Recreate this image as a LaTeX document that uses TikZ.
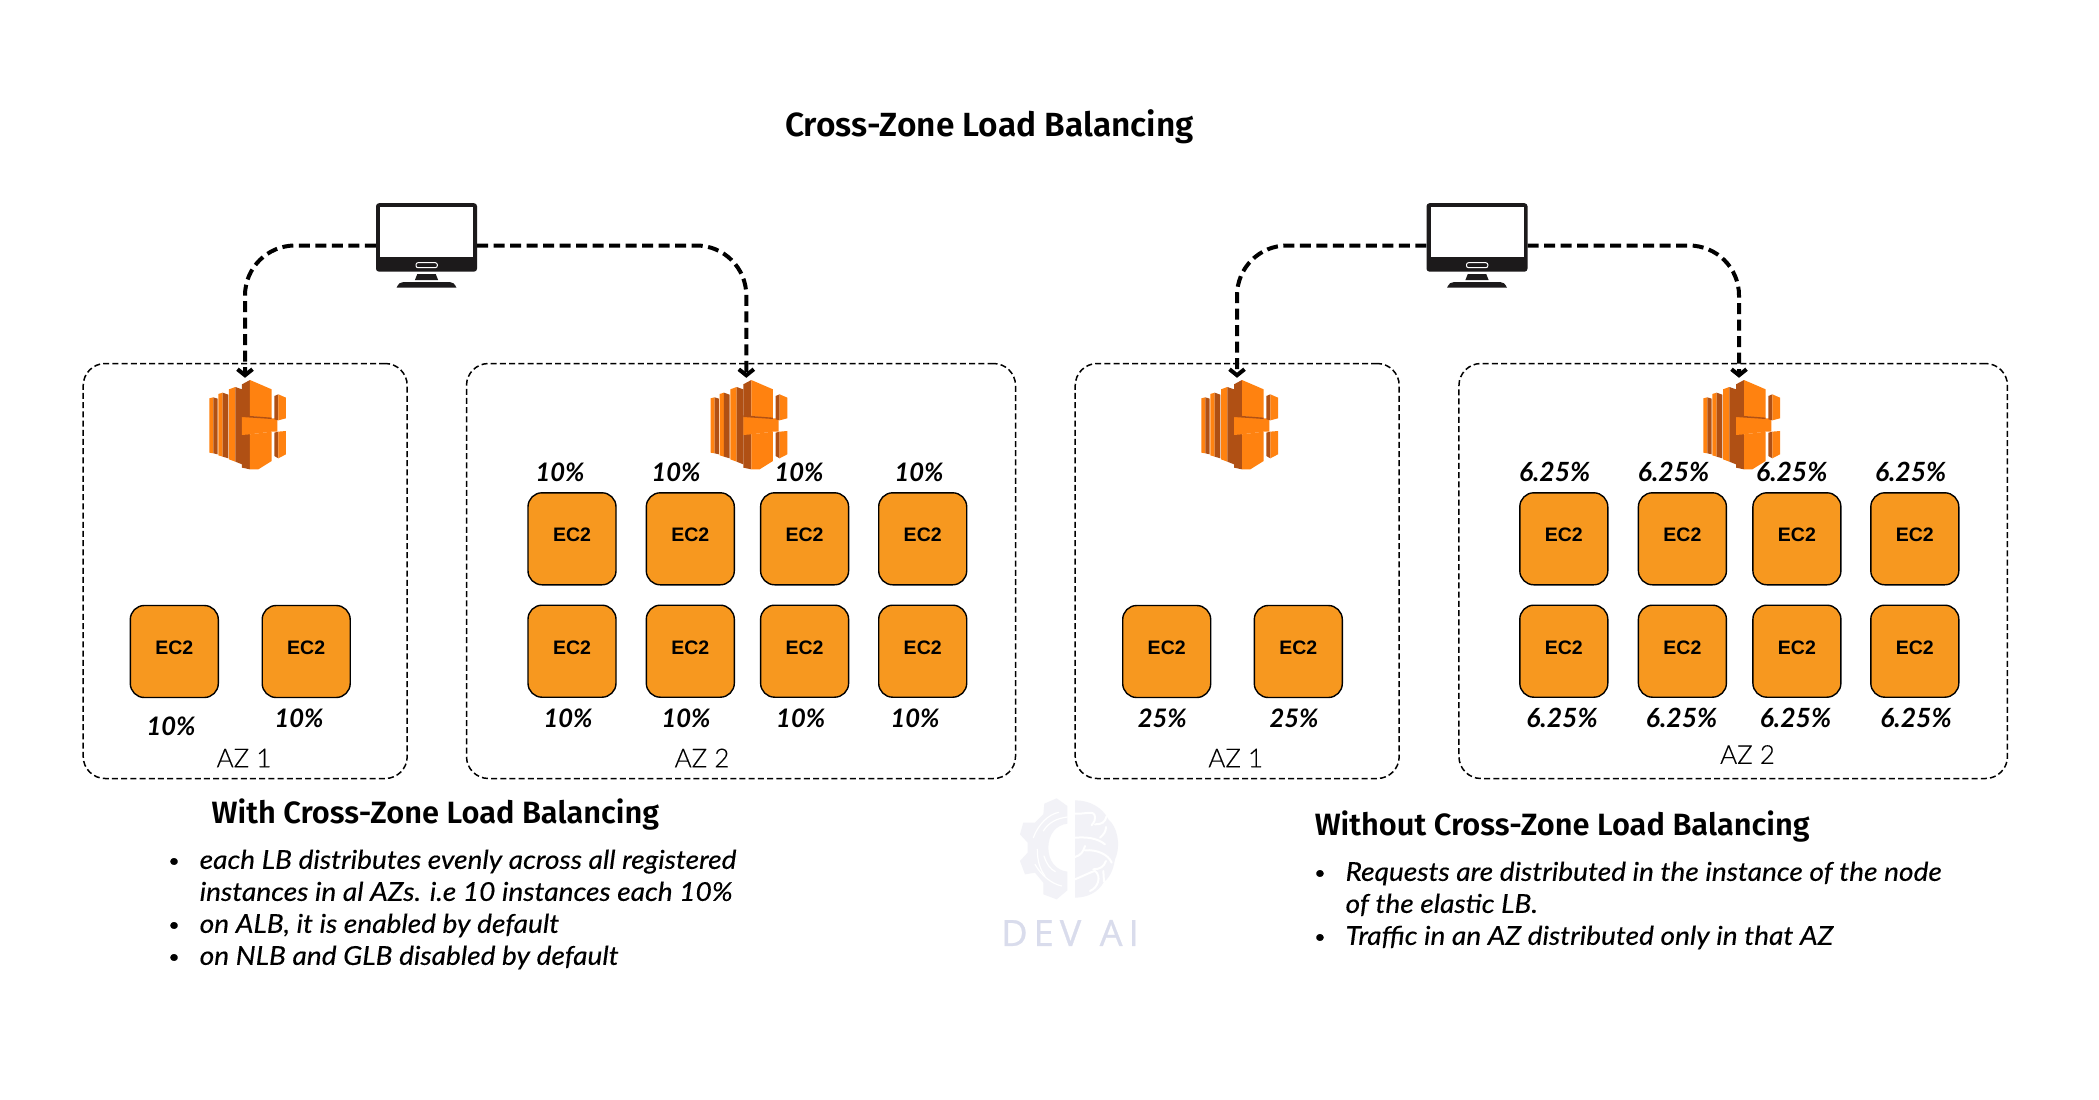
\documentclass[tikz,border=0pt]{standalone}
\usepackage{fontspec}
\usetikzlibrary{arrows.meta}
\setmainfont{Open Sans}
\newfontfamily\headfont{Fira Sans SemiBold}
\newfontfamily\handfont{Lato Italic}[FakeStretch=1.08,FakeBold=0.3]
\newfontfamily\pctfont{Lato Bold Italic}
\newfontfamily\ecfont{Liberation Sans}
\newfontfamily\azfont{Lato Light}[FakeBold=0.25]
\newfontfamily\wmfont{Open Sans}[LetterSpace=17,FakeBold=0.8]
\newcommand{\bul}{\llap{\raisebox{2pt}{\fontsize{18}{18}\selectfont\textbullet}\hspace{20pt}}}
\definecolor{ecfill}{HTML}{F7981F}
\definecolor{lbo}{HTML}{FF8210}
\definecolor{lbd}{HTML}{B05014}
\definecolor{mon}{HTML}{1C1A1B}
\definecolor{wmg}{HTML}{F2F2F7}
\definecolor{wmt}{HTML}{D9DCEC}
\tikzset{
  zone/.style={draw=black,line width=1.5pt,dash pattern=on 6pt off 3.2pt,rounded corners=22pt,inner sep=0pt},
  ec2/.style={draw=black,line width=1.4pt,fill=ecfill,rounded corners=14pt,minimum width=88pt,minimum height=92pt,inner sep=0pt,text depth=8pt,font=\ecfont\bfseries\fontsize{19.5}{19.5}\selectfont},
  pct/.style={inner sep=0pt,font=\pctfont\fontsize{25.5}{25.5}\selectfont},
  pctwide/.style={inner sep=0pt,font=\pctfont\fontsize{26.5}{26.5}\selectfont},
  azlab/.style={inner sep=0pt,font=\azfont\fontsize{26}{26}\selectfont},
  head/.style={inner sep=0pt,anchor=west,font=\headfont\fontsize{30.8}{30.8}\selectfont},
  body/.style={inner sep=0pt,anchor=north west,align=left,font=\handfont\fontsize{26}{32}\selectfont},
  flow/.style={draw=black,line width=4pt,dash pattern=on 11pt off 5.5pt,rounded corners=50pt,-{Straight Barb[length=6pt,width=15pt,line width=4pt]}},
  monitor/.pic={
    \fill[mon,rounded corners=3pt] (-50.5,-42.3) rectangle (50.5,26.2);
    \fill[white] (-46.5,-38.2) rectangle (46.8,11.8);
    \draw[white,fill=mon,line width=1pt,rounded corners=2pt] (-10.5,17.2) rectangle (10.8,22.2);
    \fill[mon] (-9.2,28.5) -- (9.2,28.5) -- (11.6,34.5) -- (-11.6,34.5) -- cycle;
    \fill[mon] (-30,42.2) .. controls (-28,38) and (-26,36.5) .. (-23,36.5) -- (23,36.5) .. controls (26,36.5) and (28,38) .. (30,42.2) -- cycle;
  },
  lbicon/.pic={
    \begin{scope}[x=.3333pt,y=-.3333pt,xshift=-55pt,yshift=57.5pt]
      \fill[lbo] (58,97) -- (70,94) -- (70,262) -- (58,260) -- cycle;
      \fill[lbd] (70,94) -- (83,98) -- (83,265) -- (70,262) -- cycle;
      \fill[lbo] (85,84) -- (98,80) -- (98,272) -- (85,268) -- cycle;
      \fill[lbd] (98,80) -- (115,86) -- (115,277) -- (98,272) -- cycle;
      \fill[lbo] (117,70) -- (136,63) -- (136,287) -- (117,280) -- cycle;
      \fill[lbd] (136,63) -- (156,70) -- (156,295) -- (136,287) -- cycle;
      \fill[lbd] (156,55) -- (180,42) -- (180,310) -- (156,305) -- cycle;
      \fill[lbo] (180,42) -- (245,70) -- (245,157) -- (180,150) -- cycle;
      \fill[lbo] (180,205) -- (245,197) -- (245,285) -- (205,310) -- (180,310) -- cycle;
      \fill[lbo] (156,152) -- (180,150) -- (245,157) -- (262,157) -- (262,197) -- (245,197) -- (180,205) -- (156,207) -- cycle;
      \fill[lbd] (156,148) -- (245,155) -- (245,159) -- (156,153) -- cycle;
      \fill[lbd] (253,90) -- (265,85) -- (265,163) -- (253,160) -- cycle;
      \fill[lbo] (265,85) -- (288,95) -- (288,157) -- (265,163) -- cycle;
      \fill[lbd] (253,200) -- (265,197) -- (265,277) -- (253,270) -- cycle;
      \fill[lbo] (265,197) -- (288,195) -- (288,265) -- (265,277) -- cycle;
    \end{scope}
  }
}
\begin{document}
\begin{tikzpicture}[x=1pt,y=-1pt]
\useasboundingbox (0,0) rectangle (2099,1100);
\fill[white] (0,0) rectangle (2099,1100);
\begin{scope}[yshift=-1pt]

% watermark
\begin{scope}[x=.3333pt,y=-.3333pt,xshift=980pt,yshift=-780pt]
  \fill[wmg] (262,75) -- (230,52) -- (193,68) -- (190,100) -- (165,125) -- (130,125) -- (120,160) -- (143,185) -- (143,215) -- (120,240) -- (135,280) -- (165,275) -- (190,305) -- (190,340) -- (230,355) -- (262,328) -- (262,272) .. controls (228,268) and (205,240) .. (205,200) .. controls (205,160) and (228,132) .. (262,128) -- cycle;
  \fill[wmg] (285,58) .. controls (330,58) and (368,80) .. (385,115) .. controls (410,135) and (425,190) .. (405,235) .. controls (400,265) and (390,290) .. (372,302) .. controls (355,335) and (320,350) .. (285,350) -- cycle;
  \draw[white,line width=1.2pt,line cap=round] (160,170) .. controls (175,130) and (205,100) .. (236,94);
  \draw[white,line width=1.2pt,line cap=round] (190,150) .. controls (205,125) and (230,112) .. (262,108);
  \draw[white,line width=1.2pt,line cap=round] (172,205) .. controls (172,240) and (180,265) .. (195,285);
  \draw[white,line width=1.2pt,line cap=round] (192,225) .. controls (200,250) and (212,265) .. (226,272);
  \draw[white,line width=1.2pt,line cap=round] (165,250) .. controls (185,285) and (215,308) .. (245,315);
  \draw[white,line width=2pt,line cap=round] (285,98) .. controls (320,100) and (345,85) .. (345,110) .. controls (345,125) and (335,130) .. (335,133);
  \draw[white,line width=2pt,line cap=round] (345,130) .. controls (365,130) and (375,125) .. (380,105);
  \draw[white,line width=2pt,line cap=round] (285,170) .. controls (320,168) and (350,170) .. (375,190);
  \draw[white,line width=2pt,line cap=round] (360,170) .. controls (372,160) and (378,150) .. (378,138);
  \draw[white,line width=2pt,line cap=round] (285,228) .. controls (305,222) and (310,210) .. (315,195);
  \draw[white,line width=2pt,line cap=round] (315,208) .. controls (350,205) and (385,220) .. (395,245);
  \draw[white,line width=2pt,line cap=round] (285,295) .. controls (320,280) and (340,270) .. (345,270) .. controls (365,285) and (355,320) .. (330,330);
  \draw[white,line width=2pt,line cap=round] (340,265) .. controls (358,265) and (372,258) .. (378,240);
  \draw[white,line width=2pt,line cap=round] (372,302) -- (370,270);
\end{scope}
\node[inner sep=0pt,text=wmt,font=\wmfont\fontsize{36}{36}\selectfont] (wmtext) at (1070,932) {DEV\hspace{3pt} AI};

% title
\node[inner sep=0pt,font=\headfont\fontsize{33.5}{33.5}\selectfont] (title) at (989.5,126) {Cross-Zone Load Balancing};

% zones
\node[zone,minimum width=324pt,minimum height=415pt] (zone1) at (245.2,570) {};
\node[zone,minimum width=549pt,minimum height=415pt] (zone2) at (741,570) {};
\node[zone,minimum width=324pt,minimum height=415pt] (zone3) at (1237.2,570) {};
\node[zone,minimum width=548.5pt,minimum height=415pt] (zone4) at (1733.2,570) {};

% monitors
\node[inner sep=0pt,minimum width=101pt,minimum height=85pt] (pcA) at (426.5,244.5) {};
\node[inner sep=0pt,minimum width=101pt,minimum height=85pt] (pcB) at (1477,244.5) {};
\pic at (pcA.center) {monitor};
\pic at (pcB.center) {monitor};

% load balancers
\foreach \n/\x in {A/245,B/746.3,C/1237,D/1739}{
  \node[inner sep=0pt,minimum width=4pt,minimum height=91pt] (lb\n) at (\x,422.5) {};
  \pic at (lb\n.center) {lbicon};
}

% connectors
\draw[flow] (pcA.west) -| (lbA.north);
\draw[flow] (pcA.east) -| (lbB.north);
\draw[flow] (pcB.west) -| (lbC.north);
\draw[flow] (pcB.east) -| (lbD.north);

% EC2 instances
\foreach \n/\x/\y in {a1/174.3/650.5,a2/306.2/650.5,
  b1/572/537.8,b2/690.3/537.8,b3/804.6/537.8,b4/922.7/537.8,
  b5/572/650.2,b6/690.3/650.2,b7/804.6/650.2,b8/922.7/650.2,
  c1/1166.7/650.5,c2/1298.3/650.5,
  d1/1563.8/537.8,d2/1682.4/537.8,d3/1796.9/537.8,d4/1914.8/537.8,
  d5/1563.8/650.2,d6/1682.4/650.2,d7/1796.9/650.2,d8/1914.8/650.2}{
  \node[ec2] (ec\n) at (\x,\y) {EC2};
}

% percentages
\foreach \n/\x/\y/\t in {a1/171/725/10\%,a2/299/717.3/10\%,
  b1/560/471.7/10\%,b2/676/471.7/10\%,b3/799/471.7/10\%,b4/919/471.7/10\%,
  b5/568/717.3/10\%,b6/686/717.3/10\%,b7/800.7/717.3/10\%,b8/915/717.3/10\%,
  c1/1162.3/717.3/25\%,c2/1294/717.3/25\%}{
  \node[pct] (p\n) at (\x,\y) {\t};
}
\foreach \n/\x/\y in {d1/1554.7/471,d2/1673.6/471,d3/1791.8/471,d4/1910.7/471,
  d5/1562/717.3,d6/1681.6/717.3,d7/1795.5/717.3,d8/1916/717.3}{
  \node[pctwide] (p\n) at (\x,\y) {6.25\%};
}

% zone labels
\node[azlab] (azA) at (244,757) {AZ 1};
\node[azlab] (azB) at (702,757) {AZ 2};
\node[azlab] (azC) at (1235.7,757) {AZ 1};
\node[azlab] (azD) at (1747.5,753.5) {AZ 2};

% captions
\node[head] (headL) at (211.5,814) {With Cross-Zone Load Balancing};
\node[head] (headR) at (1314.6,826) {Without Cross-Zone Load Balancing};
\node[body] (bodyL) at (199.5,848.5) {\bul each LB distributes evenly across all registered\\
instances in al AZs. i.e 10 instances each 10\%\\
\bul on ALB, it is enabled by default\\
\bul on NLB and GLB disabled by default};
\node[body] (bodyR) at (1345.4,860.5) {\bul Requests are distributed in the instance of the node\\
of the elastic LB.\\
\bul Traffic in an AZ distributed only in that AZ};
\end{scope}
\end{tikzpicture}
\end{document}
